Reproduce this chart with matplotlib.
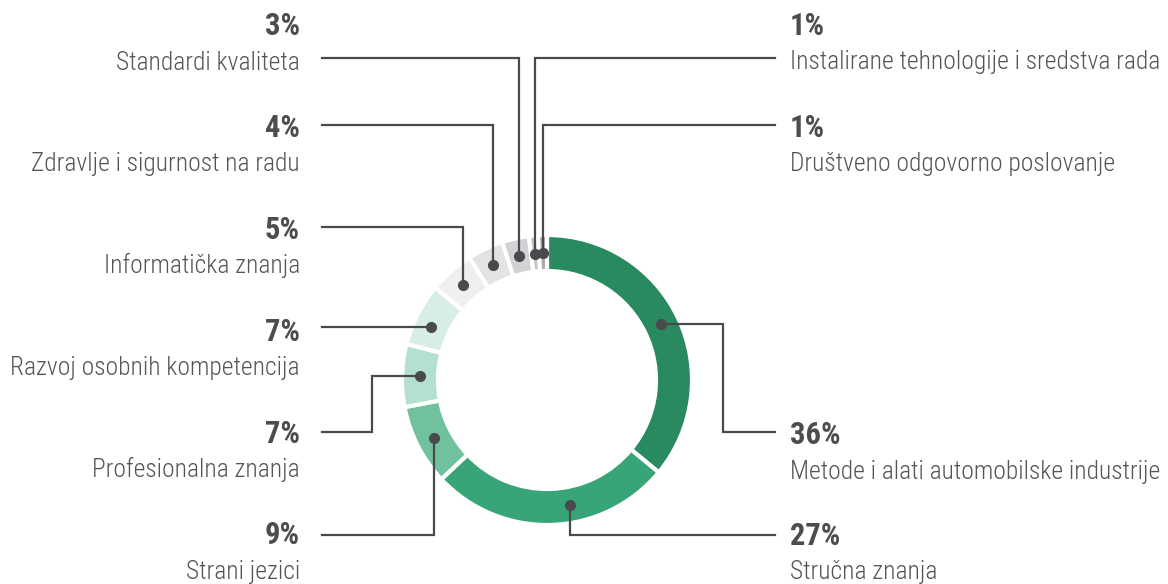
import matplotlib
matplotlib.use("Agg")
import matplotlib.pyplot as plt
import numpy as np

W, H = 1168, 584

labels = ["Metode i alati automobilske industrije", "Stručna znanja", "Strani jezici",
          "Profesionalna znanja", "Razvoj osobnih kompetencija", "Informatička znanja",
          "Zdravlje i sigurnost na radu", "Standardi kvaliteta",
          "Instalirane tehnologije i sredstva rada", "Društveno odgovorno poslovanje"]
values = [36, 27, 9, 7, 7, 5, 4, 3, 1, 1]
colors = ["#288a5e", "#37a577", "#6fc29d", "#b3e0cf", "#d8eee5",
          "#efefef", "#e3e3e4", "#d2d2d4", "#c4c4c6", "#a9a9ab"]

# label layout (pixel rows from top): side, leader row, bend x, percent baseline,
# and a small angular nudge of the dot inside its segment
side = ["r", "r", "l", "l", "l", "l", "l", "l", "r", "r"]
line_row = [432, 535, 535, 432, 327, 227, 125, 58, 58, 125]
bend_x = [723, None, None, 372, None, None, None, None, None, None]
pct_base = [444, 545, 544, 443, 341, 239, 137, 35, 35, 137]
dot_nudge = [1, 8.6, 0, 0, 2.5, 0, 0, 0, 0, 0]

CX, CY, R = 547, 380, 145
RING = 36
DOT_R = 127
INK = "#4a4a4e"
FONT = "Roboto Condensed"

fig = plt.figure(figsize=(W / 100, H / 100), dpi=100)
ax = fig.add_axes([0, 0, 1, 1])

ax.pie(values, colors=colors, startangle=90, counterclock=False, radius=R,
       center=(CX, H - CY),
       wedgeprops=dict(width=RING, edgecolor="white", linewidth=3))
ax.set_xlim(0, W)
ax.set_ylim(0, H)
ax.set_aspect("equal")
ax.axis("off")

# dot on the middle of each ring segment
frac = np.cumsum(values) - np.array(values) / 2
ang = np.deg2rad(90 - frac / sum(values) * 360 + np.array(dot_nudge))
dx = CX + DOT_R * np.cos(ang)
dy = (H - CY) + DOT_R * np.sin(ang)

for i in range(len(values)):
    ly = H - line_row[i]
    end_x = 775 if side[i] == "r" else 322
    if bend_x[i] is not None:
        xs = [dx[i], bend_x[i], bend_x[i], end_x]
        ys = [dy[i], dy[i], ly, ly]
    else:
        xs = [dx[i], dx[i], end_x]
        ys = [dy[i], ly, ly]
    ax.plot(xs, ys, color=INK, lw=1.6, solid_joinstyle="miter", zorder=3)
ax.plot(dx, dy, "o", color=INK, ms=7, zorder=4)

for i in range(len(values)):
    tx = 790 if side[i] == "r" else 300
    ha = "left" if side[i] == "r" else "right"
    ax.text(tx, H - pct_base[i], f"{values[i]}%", ha=ha, va="baseline", fontsize=22,
            fontweight="bold", color="#4d4d4d", family=FONT)
    ax.text(tx, H - pct_base[i] - 34.5, labels[i], ha=ha, va="baseline", fontsize=18.4,
            fontweight="light", color="#555555", family=FONT)

fig.savefig("out.png", dpi=100)
